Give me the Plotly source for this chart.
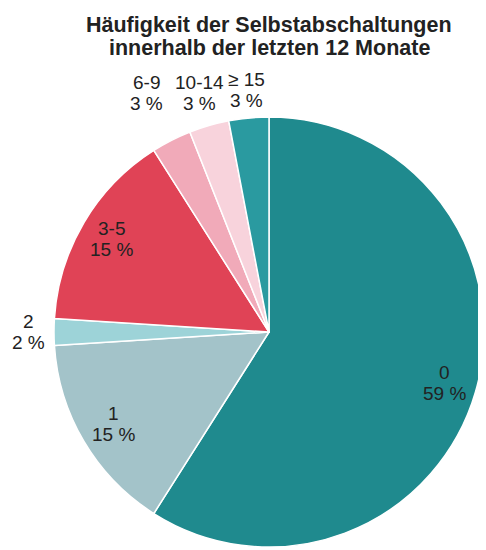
import math
import plotly.graph_objects as go

labels = ["0", "1", "2", "3-5", "6-9", "10-14", "≥ 15"]
values = [59, 15, 2, 15, 3, 3, 3]
colors = ["#1f8a8e", "#a3c3c9", "#9dd3d8", "#e04356", "#f1aab9", "#f8d3dc", "#2a9aa0"]
title_lines = ["Häufigkeit der Selbstabschaltungen", "innerhalb der letzten 12 Monate"]

# label placement (layout): radial distance of each label as a fraction of the radius
label_radius = [0.85, 0.84, 1.12, 0.85, 1.25, 1.16, 1.13]

# The page body has an 8px margin, so the figure starts at (8, 8) in the window.
OX, OY = 8, 8
W, H = 486 - OX, 550 - OY
cx, cy, R = 269 - OX, 332 - OY, 215  # pie centre & radius in figure pixels
FONT = "Liberation Sans, Arial"
LINE = 21  # label line pitch, px


def px2paper(x, y):
    return x / W, 1 - y / H


fig = go.Figure(go.Pie(
    labels=labels,
    values=values,
    sort=False,
    direction="clockwise",
    rotation=0,
    marker=dict(colors=colors, line=dict(color="white", width=1.5)),
    textinfo="none",
    hoverinfo="label+percent",
    showlegend=False,
    domain=dict(x=[(cx - R) / W, (cx + R) / W], y=[(H - cy - R) / H, (H - cy + R) / H]),
))

annotations = []
total = sum(values)
cum = 0
for lab, val, f in zip(labels, values, label_radius):
    mid = (cum + val / 2) / total * 2 * math.pi
    cum += val
    bx = cx + f * R * math.sin(mid)
    by = cy - f * R * math.cos(mid)
    for i, line in enumerate([lab, f"{val} %"]):
        x, y = px2paper(bx, by + (i - 0.5) * LINE)
        annotations.append(dict(
            x=x, y=y, xref="paper", yref="paper",
            xanchor="center", yanchor="middle", showarrow=False,
            text=line,
            font=dict(family=FONT, size=19, color="#222222"),
        ))

for i, line in enumerate(title_lines):
    x, y = px2paper(269 - OX, 25 - OY + i * 23)
    annotations.append(dict(
        x=x, y=y, xref="paper", yref="paper",
        xanchor="center", yanchor="middle", showarrow=False,
        text=f"<b>{line}</b>",
        font=dict(family=FONT, size=21.5, color="#222222"),
    ))

fig.update_layout(
    width=W, height=H,
    margin=dict(l=0, r=0, t=0, b=0),
    paper_bgcolor="white",
    annotations=annotations,
)

fig.write_html("out.html")
